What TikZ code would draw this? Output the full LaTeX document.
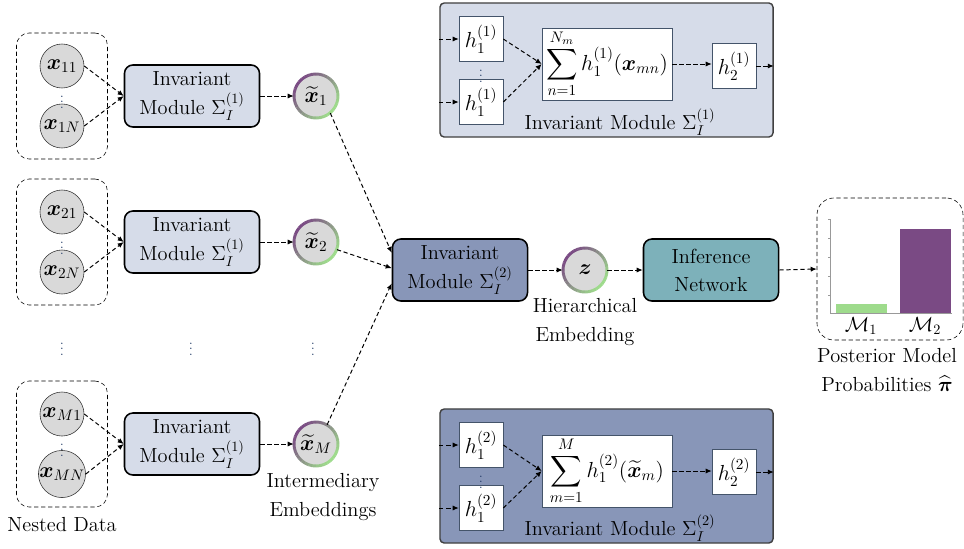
\RequirePackage{fix-cm}
\documentclass[tikz,border=0pt]{standalone}
\usepackage{amsmath,amssymb,bm}
\usepackage{fontspec}
\usetikzlibrary{arrows.meta,positioning,calc}
\definecolor{modlight}{HTML}{D6DCE9}
\definecolor{moddark}{HTML}{8896B8}
\definecolor{infteal}{HTML}{7DB1BA}
\definecolor{embpurple}{HTML}{7A4A84}
\definecolor{embgreen}{HTML}{9EDB8C}
\definecolor{nodegray}{HTML}{D9D9D9}
\definecolor{dotblue}{HTML}{1F3864}
\definecolor{hborder}{HTML}{44546A}
\tikzset{
  bigmath/.style={font=\fontsize{15.5}{19}\selectfont},
  module/.style={draw=black, line width=1.1pt, rounded corners=6pt, align=center,
    minimum width=3.375cm, minimum height=1.55cm, fill=modlight, inner sep=2pt},
  datanode/.style={circle, draw=black!80, fill=nodegray, minimum size=1.1cm, inner sep=0pt, bigmath},
  embnode/.style={circle, fill=nodegray, minimum size=1.1cm, inner sep=0pt, bigmath},
  groupbox/.style={draw=black, dash pattern=on 3pt off 2pt, rounded corners=9pt,
    minimum width=2.275cm, minimum height=3.15cm},
  panel/.style={draw=black!75, line width=1pt, rounded corners=3pt,
    minimum width=8.325cm, minimum height=3.35cm},
  hbox/.style={draw=hborder, fill=white, minimum width=1.1cm, minimum height=1.12cm, inner sep=1pt, bigmath},
  sumbox/.style={draw=hborder, fill=white, minimum width=3.25cm, minimum height=1.8cm, inner sep=1pt, bigmath},
  darr/.style={-{Latex[length=1.5mm,width=1.3mm]}, line width=0.7pt, dash pattern=on 3pt off 2pt},
  vdotsnode/.style={text=dotblue, font=\small, inner sep=0pt},
  caption/.style={align=center, inner sep=0pt}
}
% gradient ring round an embedding node
\newcommand\embring[1]{%
  \foreach \a in {0,10,...,350}{%
    \pgfmathtruncatemacro\w{50*(1+cos(\a-135))}
    \draw[embpurple!\w!embgreen, line width=2.1pt]
      ($(#1.center)+(\a:0.55cm)$) arc[start angle=\a, end angle=\a+10.5, radius=0.55cm];
  }%
}

\begin{document}
\begin{tikzpicture}[x=0.025cm, y=-0.025cm, font=\fontsize{14.5}{20}\selectfont]
  \useasboundingbox (0,0) rectangle (964,548);

  % nested data groups, first invariant modules, intermediary embeddings
  \foreach \r/\ym/\ia/\ib/\ie in {1/96/11/1N/1, 2/242/21/2N/2, 3/444/M1/MN/M}{
    \node[groupbox] (grp\r) at (62,\ym) {};
    \node[datanode] (xa\r) at (62,\ym-30) {$\bm{x}_{\ia}$};
    \node[datanode] (xb\r) at (62,\ym+30) {$\bm{x}_{\ib}$};
    \node[vdotsnode] (gd\r) at (62,\ym+2) {$\vdots$};
    \node[module] (mod\r) at (192,\ym) {Invariant\\Module $\Sigma_I^{(1)}$};
    \node[embnode] (emb\r) at (316,\ym) {$\widetilde{\bm{x}}_{\ie}$};
    \embring{emb\r}
    \draw[darr] (xa\r.east) -- (mod\r.west);
    \draw[darr] (xb\r.east) -- (mod\r.west);
    \draw[darr] (mod\r.east) -- (emb\r.west);
  }

  \node[vdotsnode] (rd1) at (62,345) {$\vdots$};
  \node[vdotsnode] (rd2) at (191,345) {$\vdots$};
  \node[vdotsnode] (rd3) at (313,345) {$\vdots$};

  \node[caption] (nestlbl) at (62,525) {Nested Data};
  \node[caption] (intlbl) at (323,497) {Intermediary\\Embeddings};

  % second invariant module and inference
  \node[module, fill=moddark] (mod0) at (460,270) {Invariant\\Module $\Sigma_I^{(2)}$};
  \node[embnode] (z) at (585,270) {$\bm{z}$};
  \embring{z}
  \node[module, fill=infteal] (inf) at (711,270) {Inference\\Network};
  \node[caption] (hierlbl) at (585,322) {Hierarchical\\Embedding};

  \draw[darr] (emb1.-50) -- ($(mod0.north west)!0.23!(mod0.south west)$);
  \draw[darr] (emb2.-20) -- ($(mod0.north west)!0.47!(mod0.south west)$);
  \draw[darr] (emb3.60) -- ($(mod0.north west)!0.71!(mod0.south west)$);
  \draw[darr] (mod0.east) -- (z.west);
  \draw[darr] (z.east) -- (inf.west);

  % posterior model probabilities
  \node[groupbox, minimum width=3.65cm, minimum height=3.55cm, rounded corners=12pt] (post) at (890,269) {};
  \draw[darr] (inf.east) -- (post.west);
  \draw[black!40, line width=0.5pt] (830,219) -- (830,313) -- (952,313);
  \foreach \t in {219,238,257,276,295}{
    \draw[black!40, line width=0.5pt] (828,\t) -- (830,\t);
  }
  \fill[embgreen] (836,304) rectangle (887,313);
  \fill[embpurple] (900,229) rectangle (951,313);
  \node[inner sep=0pt] (m1lbl) at (861,326) {$\mathcal{M}_1$};
  \node[inner sep=0pt] (m2lbl) at (925,326) {$\mathcal{M}_2$};
  \node[caption] (postlbl) at (887,370) {Posterior Model\\Probabilities $\widehat{\bm{\pi}}$};

  % inner structure of both invariant modules
  \foreach \p/\yc/\lvl/\fc in {a/70/1/modlight, b/476/2/moddark}{
    \node[panel, fill=\fc] (pan\p) at (606.5,\yc) {};
    \node[hbox] (ha\p) at (481,\yc-31) {$h_1^{(\lvl)}$};
    \node[hbox] (hb\p) at (481,\yc+32) {$h_1^{(\lvl)}$};
    \node[vdotsnode] (hd\p) at (481,\yc+2) {$\vdots$};
    \node[hbox] (hc\p) at (734,\yc-4) {$h_2^{(\lvl)}$};
    \draw[darr] (pan\p.west |- ha\p) -- (ha\p.west);
    \draw[darr] (pan\p.west |- hb\p) -- (hb\p.west);
    \draw[darr] (hc\p.east) -- (pan\p.east |- hc\p);
    \node[caption] (pl\p) at (620,\yc+52) {Invariant Module $\Sigma_I^{(\lvl)}$};
  }
  \node[sumbox] (suma) at (607,64) {$\displaystyle\sum_{n=1}^{N_m} h_1^{(1)}(\bm{x}_{mn})$};
  \node[sumbox] (sumb) at (607,471) {$\displaystyle\sum_{m=1}^{M} h_1^{(2)}(\widetilde{\bm{x}}_{m})$};
  \foreach \p in {a,b}{
    \draw[darr] (ha\p.east) -- (sum\p.west);
    \draw[darr] (hb\p.east) -- (sum\p.west);
    \draw[darr] (sum\p.east) -- (hc\p.west |- sum\p.east);
  }
\end{tikzpicture}
\end{document}
